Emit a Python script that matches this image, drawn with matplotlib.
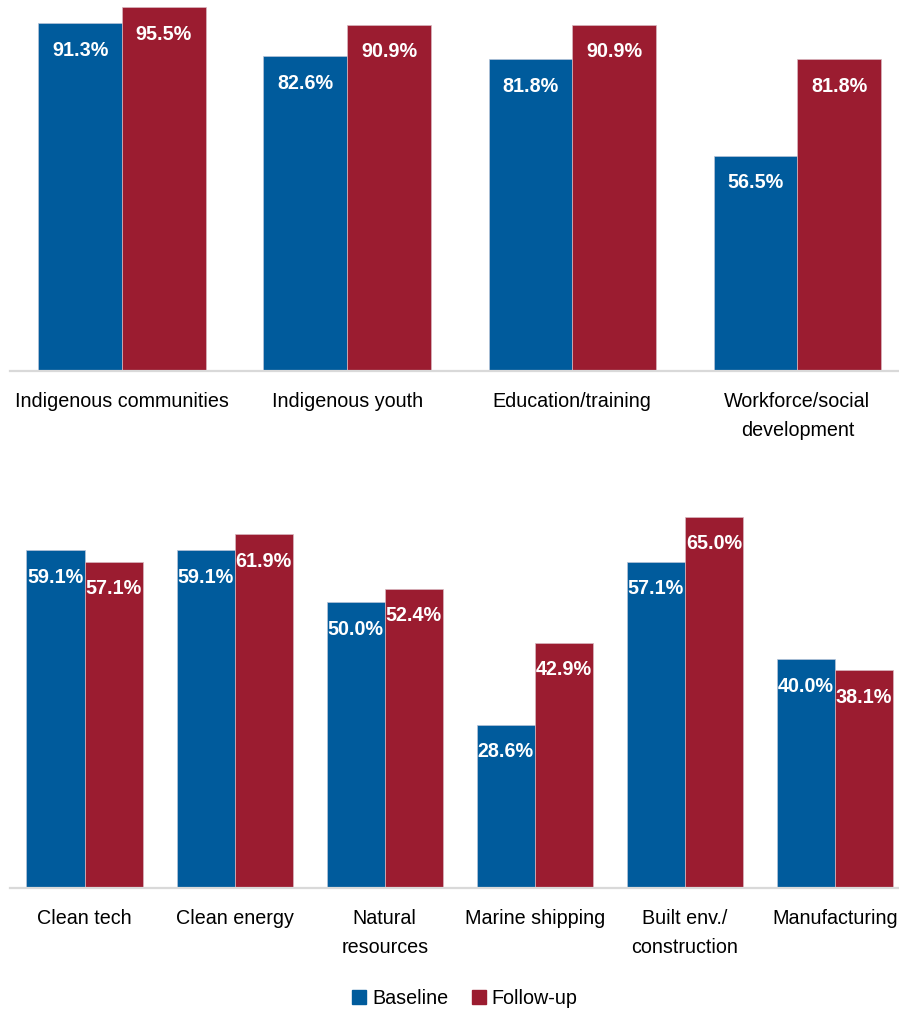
import numpy as np
import matplotlib.pyplot as plt
from matplotlib.patches import Patch

plt.rcParams['font.family'] = ['Liberation Sans', 'DejaVu Sans']

# top panel data
top_cats = ['Indigenous communities', 'Indigenous youth', 'Education/training',
            'Workforce/social\ndevelopment']
top_base = [91.3, 82.6, 81.8, 56.5]
top_follow = [95.5, 90.9, 90.9, 81.8]

# bottom panel data
bot_cats = ['Clean tech', 'Clean energy', 'Natural\nresources', 'Marine shipping',
            'Built env./\nconstruction', 'Manufacturing']
bot_base = [59.1, 59.1, 50.0, 28.6, 57.1, 40.0]
bot_follow = [57.1, 61.9, 52.4, 42.9, 65.0, 38.1]

BLUE = '#005b9c'
RED = '#9b1c30'
W, H = 899, 1011

fig = plt.figure(figsize=(W / 100, H / 100), dpi=100)


def px_axes(x0, x1, y_top, y_bot):
    # axes placed by pixel coordinates (y measured from top)
    return fig.add_axes([x0 / W, (H - y_bot) / H, (x1 - x0) / W, (y_bot - y_top) / H])


def panel(ax, cats, base, follow, width, ymax):
    x = np.arange(len(cats))
    b1 = ax.bar(x - width / 2, base, width, color=BLUE, edgecolor='#b8c4d8', linewidth=0.5)
    b2 = ax.bar(x + width / 2, follow, width, color=RED, edgecolor='#d8b8c0', linewidth=0.5)
    for bars in (b1, b2):
        for r in bars:
            ax.annotate('%.1f%%' % r.get_height(),
                        (r.get_x() + r.get_width() / 2, r.get_height()),
                        xytext=(0, -19.5), textcoords='offset points',
                        ha='center', va='center', color='white',
                        fontsize=14.2, fontweight='bold')
    ax.set_xlim(-0.5, len(cats) - 0.5)
    ax.set_ylim(0, ymax)
    ax.set_xticks(x)
    ax.set_xticklabels(cats, fontsize=14.2, linespacing=1.65)
    ax.tick_params(axis='x', length=0, pad=15)
    ax.set_yticks([])
    for s in ('left', 'right', 'top'):
        ax.spines[s].set_visible(False)
    ax.spines['bottom'].set_color('#d9d9d9')
    ax.spines['bottom'].set_linewidth(1.6)
    ax.patch.set_visible(False)


ax1 = px_axes(9.5, 910, 0, 371)
panel(ax1, top_cats, top_base, top_follow, 0.372, 97.4)

ax2 = px_axes(9.5, 910, 488, 888)
panel(ax2, bot_cats, bot_base, bot_follow, 0.387, 70)

handles = [Patch(color=BLUE, label='Baseline'), Patch(color=RED, label='Follow-up')]
fig.legend(handles=handles, loc='center', bbox_to_anchor=(465 / W, (H - 998) / H),
           ncol=2, frameon=False, fontsize=14.2, handlelength=0.7, handleheight=0.7,
           handletextpad=0.3, columnspacing=1.2)

fig.savefig('out.png', dpi=100)
